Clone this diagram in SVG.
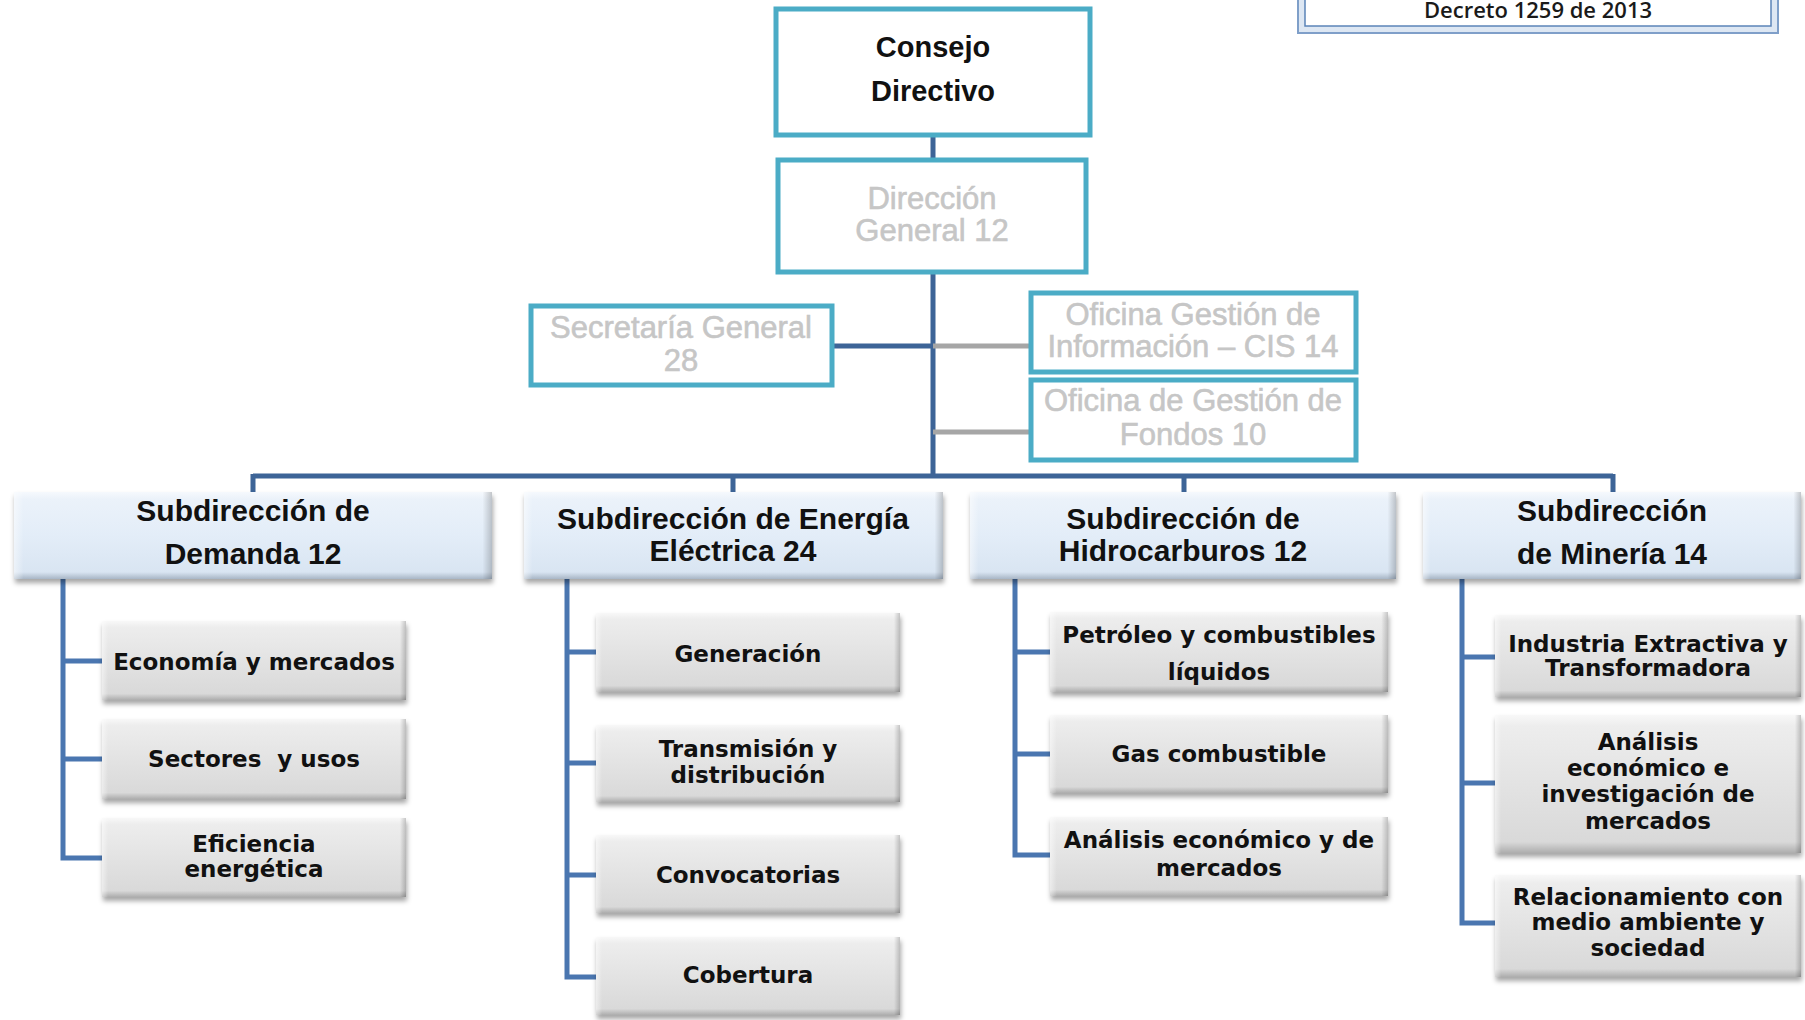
<svg xmlns="http://www.w3.org/2000/svg" width="1805" height="1020" viewBox="0 0 1805 1020">
<style>
.top{fill:#fff;stroke:#4bacc6;stroke-width:5}
.gt{font-family:"Liberation Sans",Arial,sans-serif;font-size:31px;fill:#c6c6c6;stroke:#c6c6c6;stroke-width:0.6;text-anchor:middle}
.bt{font-family:"Liberation Sans",Arial,sans-serif;font-size:29px;font-weight:bold;fill:#111;text-anchor:middle}
.st{font-family:"Liberation Sans",Arial,sans-serif;font-size:30px;font-weight:bold;fill:#111;text-anchor:middle}
.ct{font-family:"DejaVu Sans",Verdana,sans-serif;font-size:23px;font-weight:bold;fill:#111;text-anchor:middle}
.main{fill:none;stroke:#3d6497;stroke-width:5}
.br{fill:none;stroke:#4a76b0;stroke-width:5}
.gray{fill:none;stroke:#a6a6a6;stroke-width:5}
</style>
<defs>
<filter id="sh" x="-5%" y="-10%" width="112%" height="130%">
<feDropShadow dx="1" dy="4" stdDeviation="2.5" flood-color="#000" flood-opacity="0.35"/>
</filter>
<linearGradient id="gv" x1="0" y1="0" x2="0" y2="1">
<stop offset="0" stop-color="#f8f8f8"/>
<stop offset="0.08" stop-color="#ededed"/>
<stop offset="0.5" stop-color="#e3e3e3"/>
<stop offset="0.92" stop-color="#d9d9d9"/>
<stop offset="1" stop-color="#adadad"/>
</linearGradient>
<linearGradient id="bv" x1="0" y1="0" x2="0" y2="1">
<stop offset="0" stop-color="#f6f9fd"/>
<stop offset="0.08" stop-color="#ebf2fa"/>
<stop offset="0.5" stop-color="#e3edf8"/>
<stop offset="0.92" stop-color="#d9e5f2"/>
<stop offset="1" stop-color="#a8b6c6"/>
</linearGradient>
<linearGradient id="gh" x1="0" y1="0" x2="1" y2="0">
<stop offset="0" stop-color="#fff" stop-opacity="0.5"/>
<stop offset="0.02" stop-color="#fff" stop-opacity="0"/>
<stop offset="0.98" stop-color="#000" stop-opacity="0"/>
<stop offset="1" stop-color="#000" stop-opacity="0.2"/>
</linearGradient>
</defs>
<rect width="1805" height="1020" fill="#fff"/>

<g id="decreto">
<rect x="1298" y="-10" width="480" height="43" fill="#dde7f3" stroke="#7f9fc9" stroke-width="2"/>
<rect x="1305" y="-10" width="466" height="36" fill="#fff" stroke="#5b84b8" stroke-width="1.5"/>
<text x="1538" y="18" font-family="Open Sans,Liberation Sans,sans-serif" font-size="22" font-weight="600" fill="#1a1a1a" text-anchor="middle">Decreto 1259 de 2013</text>
</g>

<g id="connectors">
<path class="main" d="M933 135V160M933 272V476M832 346H933M253 476H1613M253 474V492M733 474V492M1184 474V492M1613 474V492"/>
<path class="gray" d="M933 346H1031M933 432H1031"/>
<path class="br" d="M63 579V858H102M63 661H102M63 759H102"/>
<path class="br" d="M567 579V977H596M567 652H596M567 763H596M567 875H596"/>
<path class="br" d="M1015 579V855H1050M1015 652H1050M1015 754H1050"/>
<path class="br" d="M1462 579V923H1495M1462 657H1495M1462 783H1495"/>
</g>

<g id="consejo">
<rect class="top" x="776" y="9" width="314" height="126"/>
<text class="bt" x="933" y="57">Consejo</text>
<text class="bt" x="933" y="101">Directivo</text>
</g>
<g id="direccion">
<rect class="top" x="778" y="160" width="308" height="112"/>
<text class="gt" x="932" y="209">Dirección</text>
<text class="gt" x="932" y="241">General 12</text>
</g>
<g id="secretaria">
<rect class="top" x="531" y="306" width="301" height="79"/>
<text class="gt" x="681" y="338">Secretaría General</text>
<text class="gt" x="681" y="371">28</text>
</g>
<g id="cis">
<rect class="top" x="1031" y="293" width="325" height="79"/>
<text class="gt" x="1193" y="325">Oficina Gestión de</text>
<text class="gt" x="1193" y="357">Información – CIS 14</text>
</g>
<g id="fondos">
<rect class="top" x="1031" y="380" width="325" height="80"/>
<text class="gt" x="1193" y="411">Oficina de Gestión de</text>
<text class="gt" x="1193" y="445">Fondos 10</text>
</g>

<g id="sub-demanda">
<rect x="14" y="492" width="478" height="87" fill="url(#bv)" filter="url(#sh)"/>
<rect x="14" y="492" width="478" height="87" fill="url(#gh)"/>
<text class="st" x="253" y="521">Subdirección de</text>
<text class="st" x="253" y="564">Demanda 12</text>
</g>
<g id="sub-energia">
<rect x="524" y="492" width="419" height="87" fill="url(#bv)" filter="url(#sh)"/>
<rect x="524" y="492" width="419" height="87" fill="url(#gh)"/>
<text class="st" x="733" y="529">Subdirección de Energía</text>
<text class="st" x="733" y="561">Eléctrica 24</text>
</g>
<g id="sub-hidro">
<rect x="970" y="492" width="426" height="87" fill="url(#bv)" filter="url(#sh)"/>
<rect x="970" y="492" width="426" height="87" fill="url(#gh)"/>
<text class="st" x="1183" y="529">Subdirección de</text>
<text class="st" x="1183" y="561">Hidrocarburos 12</text>
</g>
<g id="sub-mineria">
<rect x="1423" y="492" width="378" height="87" fill="url(#bv)" filter="url(#sh)"/>
<rect x="1423" y="492" width="378" height="87" fill="url(#gh)"/>
<text class="st" x="1612" y="521">Subdirección</text>
<text class="st" x="1612" y="564">de Minería  14</text>
</g>

<g id="economia">
<rect x="102" y="621" width="304" height="79" fill="url(#gv)" filter="url(#sh)"/>
<rect x="102" y="621" width="304" height="79" fill="url(#gh)"/>
<text class="ct" x="254" y="670">Economía y mercados</text>
</g>
<g id="sectores">
<rect x="102" y="719" width="304" height="80" fill="url(#gv)" filter="url(#sh)"/>
<rect x="102" y="719" width="304" height="80" fill="url(#gh)"/>
<text class="ct" x="254" y="767" xml:space="preserve">Sectores  y usos</text>
</g>
<g id="eficiencia">
<rect x="102" y="818" width="304" height="79" fill="url(#gv)" filter="url(#sh)"/>
<rect x="102" y="818" width="304" height="79" fill="url(#gh)"/>
<text class="ct" x="254" y="852">Eficiencia</text>
<text class="ct" x="254" y="877">energética</text>
</g>

<g id="generacion">
<rect x="596" y="613" width="304" height="79" fill="url(#gv)" filter="url(#sh)"/>
<rect x="596" y="613" width="304" height="79" fill="url(#gh)"/>
<text class="ct" x="748" y="662">Generación</text>
</g>
<g id="transmision">
<rect x="596" y="725" width="304" height="77" fill="url(#gv)" filter="url(#sh)"/>
<rect x="596" y="725" width="304" height="77" fill="url(#gh)"/>
<text class="ct" x="748" y="757">Transmisión y</text>
<text class="ct" x="748" y="783">distribución</text>
</g>
<g id="convocatorias">
<rect x="596" y="835" width="304" height="78" fill="url(#gv)" filter="url(#sh)"/>
<rect x="596" y="835" width="304" height="78" fill="url(#gh)"/>
<text class="ct" x="748" y="883">Convocatorias</text>
</g>
<g id="cobertura">
<rect x="596" y="937" width="304" height="78" fill="url(#gv)" filter="url(#sh)"/>
<rect x="596" y="937" width="304" height="78" fill="url(#gh)"/>
<text class="ct" x="748" y="983">Cobertura</text>
</g>

<g id="petroleo">
<rect x="1050" y="612" width="338" height="80" fill="url(#gv)" filter="url(#sh)"/>
<rect x="1050" y="612" width="338" height="80" fill="url(#gh)"/>
<text class="ct" x="1219" y="643">Petróleo y combustibles</text>
<text class="ct" x="1219" y="680">líquidos</text>
</g>
<g id="gas">
<rect x="1050" y="715" width="338" height="78" fill="url(#gv)" filter="url(#sh)"/>
<rect x="1050" y="715" width="338" height="78" fill="url(#gh)"/>
<text class="ct" x="1219" y="762">Gas combustible</text>
</g>
<g id="analisis-hidro">
<rect x="1050" y="817" width="338" height="79" fill="url(#gv)" filter="url(#sh)"/>
<rect x="1050" y="817" width="338" height="79" fill="url(#gh)"/>
<text class="ct" x="1219" y="848">Análisis económico y de</text>
<text class="ct" x="1219" y="876">mercados</text>
</g>

<g id="industria">
<rect x="1495" y="615" width="306" height="82" fill="url(#gv)" filter="url(#sh)"/>
<rect x="1495" y="615" width="306" height="82" fill="url(#gh)"/>
<text class="ct" x="1648" y="652">Industria Extractiva y</text>
<text class="ct" x="1648" y="676">Transformadora</text>
</g>
<g id="analisis-mineria">
<rect x="1495" y="715" width="306" height="138" fill="url(#gv)" filter="url(#sh)"/>
<rect x="1495" y="715" width="306" height="138" fill="url(#gh)"/>
<text class="ct" x="1648" y="750">Análisis</text>
<text class="ct" x="1648" y="776">económico e</text>
<text class="ct" x="1648" y="802">investigación de</text>
<text class="ct" x="1648" y="829">mercados</text>
</g>
<g id="relacionamiento">
<rect x="1495" y="875" width="306" height="102" fill="url(#gv)" filter="url(#sh)"/>
<rect x="1495" y="875" width="306" height="102" fill="url(#gh)"/>
<text class="ct" x="1648" y="905">Relacionamiento con</text>
<text class="ct" x="1648" y="930">medio ambiente y</text>
<text class="ct" x="1648" y="956">sociedad</text>
</g>
</svg>
